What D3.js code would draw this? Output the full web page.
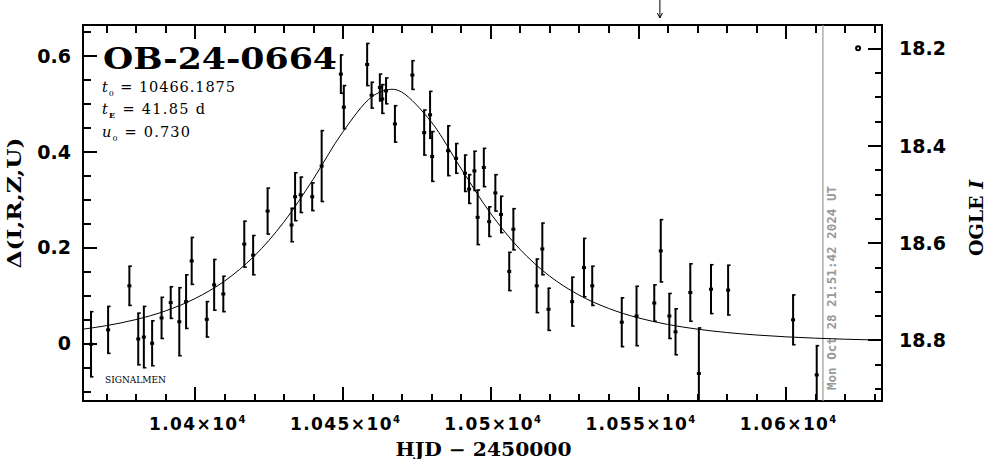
<!DOCTYPE html>
<html><head><meta charset="utf-8">
<script src="https://cdn.jsdelivr.net/npm/d3@7"></script>
<style>html,body{margin:0;padding:0;background:#fff;overflow:hidden}</style>
</head><body>
<svg id="c" width="986" height="459" xmlns="http://www.w3.org/2000/svg"></svg>
<script>
// ---- data ----
const hjd = [10364.8,10370.6,10377.8,10380.8,10382.7,10385.5,10388.7,10391.8,10394.7,10397.0,
  10398.9,10404.0,10406.5,10409.6,10416.7,10419.7,10424.6,10432.7,10433.9,10435.8,
  10439.7,10442.9,10449.4,10450.4,10458.3,10459.8,10462.6,10463.4,10464.7,10467.7,
  10473.6,10477.6,10479.6,10480.3,10485.7,10488.4,10491.4,10492.8,10494.6,10495.7,
  10497.8,10499.6,10501.7,10503.6,10506.4,10507.8,10515.7,10517.6,10519.7,10527.7,
  10531.7,10534.5,10544.5,10549.5,10555.5,10557.7,10560.6,10562.7,10567.7,10570.6,
  10574.7,10580.5,10602.5,10610.5];
const delta = [-0.002,0.028,0.120,0.009,0.013,0.000,0.053,0.085,0.045,0.087,
  0.172,0.050,0.122,0.103,0.207,0.184,0.276,0.247,0.306,0.310,
  0.306,0.370,0.562,0.493,0.582,0.518,0.534,0.510,0.527,0.458,
  0.560,0.440,0.477,0.390,0.402,0.386,0.355,0.322,0.360,0.263,
  0.367,0.254,0.314,0.269,0.150,0.238,0.120,0.197,0.071,0.087,
  0.158,0.120,0.044,0.057,0.084,0.193,0.057,0.024,0.106,-0.063,
  0.113,0.111,0.049,-0.066];
const err = [0.068,0.049,0.041,0.054,0.064,0.047,0.043,0.033,0.071,0.056,
  0.049,0.037,0.053,0.037,0.048,0.041,0.048,0.035,0.050,0.037,
  0.029,0.074,0.040,0.045,0.044,0.027,0.028,0.030,0.027,0.038,
  0.030,0.047,0.049,0.052,0.052,0.031,0.038,0.030,0.041,0.057,
  0.040,0.031,0.038,0.038,0.040,0.043,0.056,0.054,0.044,0.051,
  0.061,0.041,0.051,0.062,0.038,0.065,0.047,0.048,0.060,0.095,
  0.051,0.052,0.052,0.061];
// model curve
const modelT = [10360,10370,10380,10390,10400,10410,10420,10430,10440,10450,10460,10466.2,10470,
  10480,10490,10500,10510,10520,10530,10540,10550,10560,10570,10580,10590,10600,10610,10620,10630,10640];
const modelD = [0.0277,0.0368,0.0495,0.0675,0.0933,0.1298,0.1816,0.2522,0.3423,0.4407,0.5151,0.5302,0.5244,
  0.4621,0.3657,0.2720,0.1965,0.1406,0.1008,0.0729,0.0532,0.0394,0.0296,0.0225,0.0173,0.0135,0.0107,0.0085,0.0069,0.0056];
const xTicks = [10400,10450,10500,10550,10600];
const xTickLabels = ["1.04","1.045","1.05","1.055","1.06"];
const leftTicks = [0,0.2,0.4,0.6];
const leftTickLabels = ["0","0.2","0.4","0.6"];
const rightTicks = [18.2,18.4,18.6,18.8];
const rightTickLabels = ["18.2","18.4","18.6","18.8"];
const eventName = "OB-24-0664";
const params = [["t","0"," = 10466.1875"],["t","E"," = 41.85 d"],["u","0"," = 0.730"]];
const paramWidths = [133,103,88];
const dateStamp = "Mon Oct 28 21:51:42 2024 UT";
const dateT = 10612.6;
const arrowT = 10557.4;
const markT = 10624.5, markMag = 18.2;

// ---- layout ----
const L = 83, R = 882, T = 25, B = 401;
const x = d3.scaleLinear().domain([10362.1, 10632.6]).range([L, R]);
const yL = d3.scaleLinear().domain([-0.1205, 0.6645]).range([B, T]);
const yR = d3.scaleLinear().domain([18.152, 18.9255]).range([T, B]);

const svg = d3.select("#c");
svg.append("rect").attr("width",986).attr("height",459).attr("fill","#fff");
svg.append("defs").append("clipPath").attr("id","clip")
  .append("rect").attr("x",L).attr("y",T).attr("width",R-L).attr("height",B-T);

function range(a,b,s){const r=[];for(let v=a;v<=b+1e-9;v+=s)r.push(+v.toFixed(4));return r;}

function styleAxis(g){
  g.select(".domain").remove();
  g.selectAll("line").attr("stroke","#000").attr("stroke-width",2).attr("shape-rendering","crispEdges");
  g.selectAll("text").remove();
}
// bottom
const minorX = range(10370,10630,10).filter(v=>!xTicks.includes(v));
svg.append("g").attr("transform",`translate(0,${B})`).call(d3.axisBottom(x).tickValues(xTicks).tickSize(-14).tickFormat("")).call(styleAxis);
svg.append("g").attr("transform",`translate(0,${B})`).call(d3.axisBottom(x).tickValues(minorX).tickSize(-7).tickFormat("")).call(styleAxis);
// top
svg.append("g").attr("transform",`translate(0,${T})`).call(d3.axisTop(x).tickValues(xTicks).tickSize(-14).tickFormat("")).call(styleAxis);
svg.append("g").attr("transform",`translate(0,${T})`).call(d3.axisTop(x).tickValues(minorX).tickSize(-8).tickFormat("")).call(styleAxis);
// left
const minorL = range(-0.1,0.65,0.05).filter(v=>!leftTicks.some(t=>Math.abs(t-v)<1e-6));
svg.append("g").attr("transform",`translate(${L},0)`).call(d3.axisLeft(yL).tickValues(leftTicks).tickSize(-14).tickFormat("")).call(styleAxis);
svg.append("g").attr("transform",`translate(${L},0)`).call(d3.axisLeft(yL).tickValues(minorL).tickSize(-8).tickFormat("")).call(styleAxis);
// right
const minorR = range(18.15,18.9,0.05).filter(v=>!rightTicks.some(t=>Math.abs(t-v)<1e-6));
svg.append("g").attr("transform",`translate(${R},0)`).call(d3.axisRight(yR).tickValues(rightTicks).tickSize(-14).tickFormat("")).call(styleAxis);
svg.append("g").attr("transform",`translate(${R},0)`).call(d3.axisRight(yR).tickValues(minorR).tickSize(-7).tickFormat("")).call(styleAxis);

// frame
svg.append("rect").attr("x",L).attr("y",T).attr("width",R-L).attr("height",B-T)
  .attr("fill","none").attr("stroke","#000").attr("stroke-width",2).attr("shape-rendering","crispEdges");

// tick labels
const tickFont = "'DejaVu Sans', sans-serif";
xTicks.forEach((t,i)=>{
  const tx = svg.append("text").attr("x",x(t)+3).attr("y",430).attr("text-anchor","middle")
    .attr("font-family",tickFont).attr("font-weight","bold").attr("font-size",17).attr("letter-spacing",1.4);
  tx.append("tspan").text(xTickLabels[i]+"×10");
  tx.append("tspan").attr("font-size",10).attr("dy",-7).text("4");
});
leftTicks.forEach((t,i)=>{
  svg.append("text").attr("x",71).attr("y",yL(t)+7).attr("text-anchor","end")
    .attr("font-family",tickFont).attr("font-weight","bold").attr("font-size",19).text(leftTickLabels[i]);
});
rightTicks.forEach((t,i)=>{
  svg.append("text").attr("x",899).attr("y",yR(t)+7).attr("text-anchor","start")
    .attr("font-family",tickFont).attr("font-weight","bold").attr("font-size",19).text(rightTickLabels[i]);
});

// axis titles
const serif = "'DejaVu Serif', serif";
svg.append("text").attr("x",483.5).attr("y",456).attr("text-anchor","middle")
  .attr("font-family",serif).attr("font-weight","bold").attr("font-size",18)
  .attr("textLength",176).attr("lengthAdjust","spacingAndGlyphs").text("HJD − 2450000");
svg.append("text").attr("transform","translate(21,203) rotate(-90)").attr("text-anchor","middle")
  .attr("font-family",serif).attr("font-weight","bold").attr("font-size",19)
  .attr("textLength",131).attr("lengthAdjust","spacingAndGlyphs").text("Δ(I,R,Z,U)");
const ogle = svg.append("text").attr("transform","translate(983,218) rotate(-90)").attr("text-anchor","middle")
  .attr("font-family",serif).attr("font-weight","bold").attr("font-size",19);
ogle.append("tspan").text("OGLE ");
ogle.append("tspan").attr("font-style","italic").text("I");

// title and parameters
svg.append("text").attr("x",103).attr("y",68.5).attr("font-family",serif).attr("font-weight","bold")
  .attr("font-size",30).attr("textLength",234).attr("lengthAdjust","spacingAndGlyphs").text(eventName);
params.forEach((p,i)=>{
  const t = svg.append("text").attr("x",102).attr("y",91.7+i*22.7).attr("font-family",serif).attr("font-size",14.5)
    .attr("textLength",paramWidths[i]).attr("lengthAdjust","spacing");
  t.append("tspan").attr("font-style","italic").text(p[0]);
  t.append("tspan").attr("font-size",8).attr("font-weight",p[1]==="E"?"bold":"normal").attr("dy",4).text(p[1]);
  t.append("tspan").attr("dy",-4).text(p[2]);
});
svg.append("text").attr("x",105).attr("y",383.3).attr("font-family",serif).attr("font-size",8.5)
  .attr("textLength",61).attr("lengthAdjust","spacingAndGlyphs").text("SIGNALMEN");

// date line and stamp
svg.append("line").attr("x1",x(dateT)).attr("x2",x(dateT)).attr("y1",T).attr("y2",B)
  .attr("stroke","#999").attr("stroke-width",1.2);
svg.append("text").attr("transform",`translate(${x(dateT)+13.5},390) rotate(-90)`).attr("text-anchor","start")
  .attr("font-family","'DejaVu Sans Mono', monospace").attr("font-weight","bold").attr("font-size",13)
  .attr("fill","#999").attr("textLength",204).attr("lengthAdjust","spacingAndGlyphs").text(dateStamp);

// arrow at top
const ax = x(arrowT);
svg.append("path").attr("d",`M${ax},0 L${ax},18 M${ax-2.5},13 L${ax},18 L${ax+2.5},13`)
  .attr("fill","none").attr("stroke","#000").attr("stroke-width",1);

// small marker on right axis level
svg.append("circle").attr("cx",x(markT)).attr("cy",yR(markMag)).attr("r",2)
  .attr("fill","#fff").attr("stroke","#000").attr("stroke-width",2);

// plot content
const plot = svg.append("g").attr("clip-path","url(#clip)");
plot.append("path").datum(modelT.map((t,i)=>[t,modelD[i]]))
  .attr("d", d3.line().x(d=>x(d[0])).y(d=>yL(d[1])).curve(d3.curveCatmullRom))
  .attr("fill","none").attr("stroke","#000").attr("stroke-width",1);

const pts = hjd.map((t,i)=>({t, d:delta[i], e:err[i]}));
const eb = plot.selectAll("g.pt").data(pts).enter().append("g").attr("class","pt");
eb.append("line").attr("x1",d=>x(d.t)).attr("x2",d=>x(d.t))
  .attr("y1",d=>yL(d.d+d.e)).attr("y2",d=>yL(d.d-d.e)).attr("stroke","#000").attr("stroke-width",2);
eb.append("line").attr("x1",d=>x(d.t)-1).attr("x2",d=>x(d.t)+2.5)
  .attr("y1",d=>yL(d.d+d.e)).attr("y2",d=>yL(d.d+d.e)).attr("stroke","#000").attr("stroke-width",1.6);
eb.append("line").attr("x1",d=>x(d.t)-1).attr("x2",d=>x(d.t)+2.5)
  .attr("y1",d=>yL(d.d-d.e)).attr("y2",d=>yL(d.d-d.e)).attr("stroke","#000").attr("stroke-width",1.6);
eb.append("rect").attr("x",d=>x(d.t)-2).attr("y",d=>yL(d.d)-1.5).attr("width",4).attr("height",3).attr("fill","#000");
</script>
</body></html>
